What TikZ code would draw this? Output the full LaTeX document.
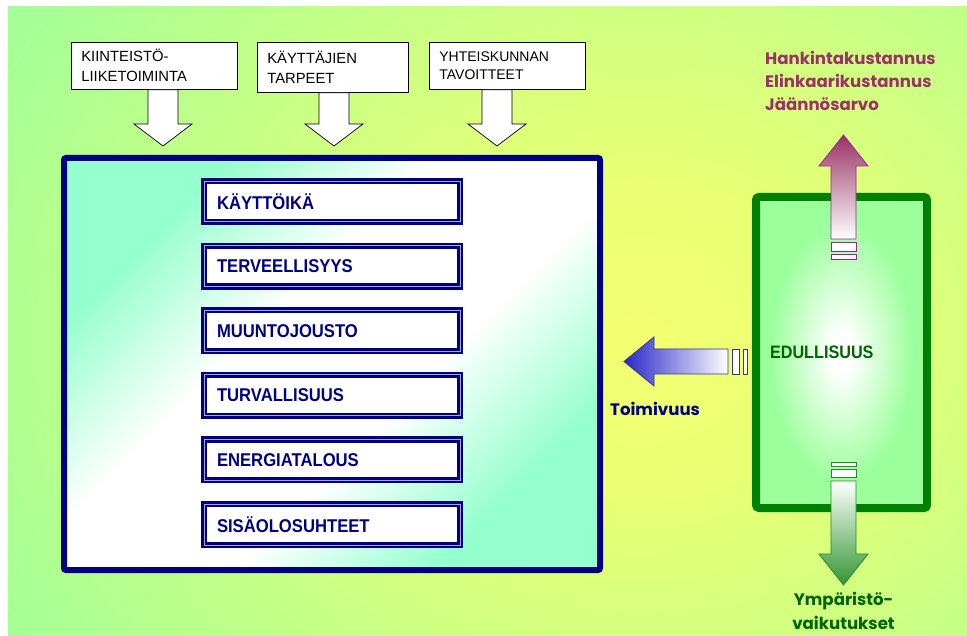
\documentclass[tikz,border=0pt]{standalone}
\usepackage{fontspec}
\setmainfont{Liberation Sans}
\newfontfamily\narrowfont{Liberation Sans}[FakeStretch=0.9]
\newfontfamily\comicfont{Poppins}
\usetikzlibrary{positioning,calc}

\definecolor{bggreen}{RGB}{160,255,152}
\definecolor{glowyellow}{RGB}{242,255,112}
\definecolor{navyc}{RGB}{0,0,128}
\definecolor{mintc}{RGB}{150,255,206}
\definecolor{boxgreen}{RGB}{0,128,0}
\definecolor{lightgreen}{RGB}{155,255,155}
\definecolor{darkgreenc}{RGB}{0,100,0}
\definecolor{plumc}{RGB}{153,51,102}
\definecolor{plumline}{RGB}{153,34,153}
\definecolor{bluearr}{RGB}{40,40,200}
\definecolor{blueline}{RGB}{51,51,153}
\definecolor{arrgreen}{RGB}{51,150,51}
\definecolor{greenline}{RGB}{34,139,34}

\pgfdeclareradialshading{bgglow}{\pgfpoint{0bp}{0bp}}{color(0bp)=(glowyellow); color(6bp)=(glowyellow!90!bggreen); color(25bp)=(bggreen); color(50bp)=(bggreen)}
\pgfdeclareradialshading{edglow}{\pgfpoint{0bp}{0bp}}{color(0bp)=(white); color(3bp)=(white); color(21bp)=(lightgreen); color(50bp)=(lightgreen)}
\pgfdeclarehorizontalshading{mainfade}{100bp}{color(0bp)=(mintc); color(27bp)=(mintc); color(42bp)=(white); color(58bp)=(white); color(73bp)=(mintc); color(100bp)=(mintc)}

\tikzset{
	topbox/.style={draw, fill=white, line width=0.7pt, anchor=north west, align=left, inner xsep=10pt, minimum height=47pt, font=\fontsize{14.8}{20}\selectfont},
	factor/.style={draw=navyc, line width=2.6pt, double=navyc!35, double distance=0.9pt, fill=white, text width=230pt, inner xsep=13pt, minimum height=40.9pt, align=left, text=navyc, font=\narrowfont\bfseries\fontsize{18.5}{20}\selectfont},
	inarrow/.style={draw, fill=white, line width=0.7pt},
	comic/.style={font=\comicfont\bfseries\fontsize{16.6}{23}\selectfont},
	costarrow/.style={draw=plumline, line width=0.8pt, top color=plumc, bottom color=white},
	costbar/.style={draw=plumline, line width=0.8pt, fill=white},
	funcarrow/.style={draw=blueline, line width=0.8pt, left color=bluearr, right color=white},
	funcbar/.style={draw=blueline, line width=0.8pt, fill=white},
	envarrow/.style={draw=greenline, line width=0.8pt, top color=white, bottom color=arrgreen},
	envbar/.style={draw=greenline, line width=0.8pt, fill=white}
}

\begin{document}
\begin{tikzpicture}[x=1pt, y=-1pt]
	\fill[white] (0,0) rectangle (967,636);
	\begin{scope}
		\clip (8,7) rectangle (967,636);
		\fill[bggreen] (8,7) rectangle (967,636);
		\shade[shading=bgglow] (-120,-300) rectangle (1400,980);
	\end{scope}
	
	\node[topbox, text width=146pt] (estate) at (71,42) {KIINTEISTÖ-\\LIIKETOIMINTA};
	\node[topbox, text width=131pt, minimum height=50pt] (users) at (257,42) {KÄYTTÄJIEN\\TARPEET};
	\node[topbox, text width=136pt, font=\fontsize{14}{18}\selectfont] (society) at (429,42) {YHTEISKUNNAN\\TAVOITTEET};
	
	\foreach \n/\x in {estate/163, users/334, society/497}
		\draw[inarrow] ({\x-15},0 |- \n.south) -- ({\x-15},124) -- ({\x-29},124) -- (\x,146) -- ({\x+29},124) -- ({\x+15},124) -- ({\x+15},0 |- \n.south) -- cycle;
	
	\node[draw=navyc, line width=6pt, rounded corners=2pt, minimum width=536pt, minimum height=412pt, shading=mainfade, shading angle=-45] (main) at (332,364) {};
	
	\node[factor] (life) at (332,201.5) {KÄYTTÖIKÄ};
	\node[factor, below=21.1pt of life] (health) {TERVEELLISYYS};
	\node[factor, below=21.1pt of health] (adapt) {MUUNTOJOUSTO};
	\node[factor, below=21.1pt of adapt] (safety) {TURVALLISUUS};
	\node[factor, below=21.1pt of safety] (energy) {ENERGIATALOUS};
	\node[factor, below=21.1pt of energy] (indoor) {SISÄOLOSUHTEET};
	
	\node[draw=boxgreen, line width=8pt, rounded corners=3pt, minimum width=171pt, minimum height=311pt, shading=edglow, text width=143pt, inner xsep=14pt, align=left, text=darkgreenc, font=\narrowfont\bfseries\fontsize{18}{20}\selectfont] (value) at (841.5,352.5) {EDULLISUUS};
	
	\draw[costarrow] (831,239) -- (831,166) -- (819,166) -- (843.5,135) -- (868,166) -- (856,166) -- (856,239) -- cycle;
	\draw[costbar] (831,242) rectangle (856,251);
	\draw[costbar] (831,254) rectangle (856,259);
	\node[comic, text=plumc, anchor=north west, align=left, inner sep=0pt] (cost) at (765,51) {Hankintakustannus\\Elinkaarikustannus\\Jäännösarvo};
	
	\draw[funcarrow] (728,349) -- (654,349) -- (654,337) -- (624,361.5) -- (654,386) -- (654,374) -- (728,374) -- cycle;
	\draw[funcbar] (732,349) rectangle (739,374);
	\draw[funcbar] (743,349) rectangle (747,374);
	\node[comic, text=navyc, anchor=base west, inner sep=0pt] (func) at (610,415) {Toimivuus};
	
	\draw[envbar] (831,462) rectangle (856,466);
	\draw[envbar] (831,469) rectangle (856,477);
	\draw[envarrow] (831,481) -- (856,481) -- (856,554) -- (868,554) -- (843.5,585) -- (819,554) -- (831,554) -- cycle;
	\node[comic, text=darkgreenc, align=center, anchor=north, inner sep=0pt, font=\comicfont\bfseries\fontsize{16.6}{24}\selectfont] (env) at (843.5,592) {Ympäristö-\\vaikutukset};
\end{tikzpicture}
\end{document}
